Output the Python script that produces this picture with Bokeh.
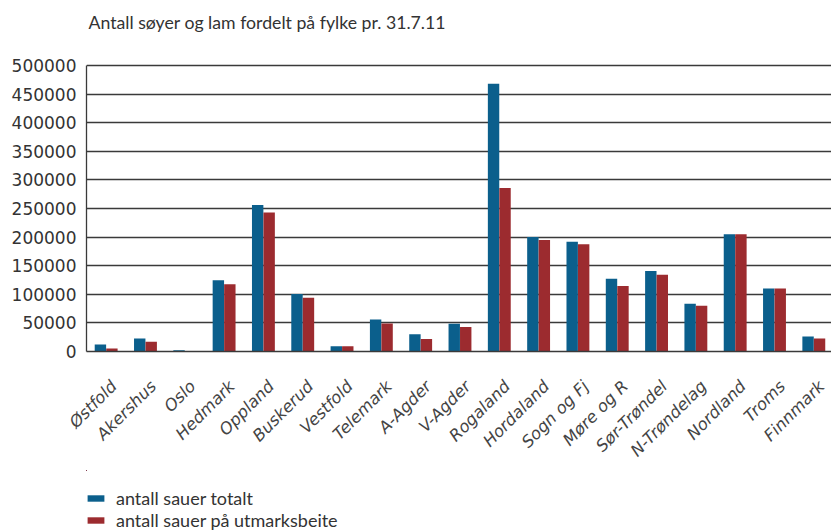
import numpy as np
from bokeh.plotting import figure
from bokeh.layouts import column
from bokeh.models import (ColumnDataSource, Range1d, SingleIntervalTicker, FixedTicker,
                          NumeralTickFormatter, Legend, LegendItem, Label)
from bokeh.transform import dodge
from bokeh.embed import file_html
from bokeh.resources import INLINE

title_text = "Antall søyer og lam fordelt på fylke pr. 31.7.11"
fylker = ["Østfold", "Akershus", "Oslo", "Hedmark", "Oppland", "Buskerud", "Vestfold",
          "Telemark", "A-Agder", "V-Agder", "Rogaland", "Hordaland", "Sogn og Fj",
          "Møre og R", "Sør-Trøndel", "N-Trøndelag", "Nordland", "Troms", "Finnmark"]
totalt = [12300, 22800, 2300, 124500, 256000, 100500, 9300, 56000, 30000, 48500,
          468000, 200000, 192000, 127000, 140800, 83500, 205000, 110000, 26300]
utmark = [5300, 17000, 500, 117400, 243000, 94000, 9300, 49000, 22000, 43000,
          285700, 195000, 187500, 114500, 134000, 80000, 205000, 110000, 22800]
series_names = ["antall sauer totalt", "antall sauer på utmarksbeite"]
y_max = 500000
y_ticks_step = 50000

idx = list(range(len(fylker)))
src = ColumnDataSource(dict(x=idx, totalt=totalt, utmark=utmark))

BLUE = "#0b5f8c"
RED = "#9c2b2f"
TXT = "#333333"

# main chart: frame runs from the page top down to the zero line; the value
# axis is bounded to 0..500000 so the space above it holds the title
px_per_unit = 286 / y_max
top_px = 65
p = figure(width=831, height=470, output_backend="svg", toolbar_location=None,
           x_range=Range1d(-0.5, 18.45),
           y_range=Range1d(0, y_max + top_px / px_per_unit),
           min_border_left=86, min_border_top=0, min_border_bottom=119, min_border_right=0)
p.outline_line_color = None
p.background_fill_color = "white"

r1 = p.vbar(x=dodge("x", -0.146, range=p.x_range), top="totalt", width=0.29,
            source=src, fill_color=BLUE, line_color=None)
r2 = p.vbar(x=dodge("x", 0.146, range=p.x_range), top="utmark", width=0.29,
            source=src, fill_color=RED, line_color=None)

p.xgrid.grid_line_color = None
p.ygrid.grid_line_color = "#3a3a3a"
p.ygrid.grid_line_width = 1.3
p.yaxis.bounds = (0, y_max)
p.ygrid.bounds = (0, y_max)
p.yaxis.ticker = SingleIntervalTicker(interval=y_ticks_step)
p.yaxis.formatter = NumeralTickFormatter(format="0")
p.yaxis.major_tick_line_color = None
p.yaxis.minor_tick_line_color = None
p.yaxis.axis_line_color = "#3a3a3a"
p.yaxis.axis_line_width = 1.3
p.yaxis.major_label_text_font = "DejaVu Sans"
p.yaxis.major_label_text_font_size = "17px"
p.yaxis.major_label_text_color = TXT
p.yaxis.major_label_standoff = 4

tick_pos = [i + 0.2 for i in idx]
p.xaxis.ticker = FixedTicker(ticks=tick_pos)
p.xaxis.major_label_overrides = {t: f for t, f in zip(tick_pos, fylker)}
p.xaxis.major_label_orientation = np.pi / 4
p.xaxis.major_tick_line_color = None
p.xaxis.minor_tick_line_color = None
p.xaxis.axis_line_color = "#3a3a3a"
p.xaxis.axis_line_width = 1.3
p.xaxis.major_label_text_font = "DejaVu Sans"
p.xaxis.major_label_text_font_style = "italic"
p.xaxis.major_label_text_font_size = "16.5px"
p.xaxis.major_label_text_color = "#444444"
p.xaxis.major_label_standoff = 26

title = Label(x=-0.5, y=y_max, x_offset=2, y_offset=43, text=title_text,
              text_baseline="alphabetic", text_align="left",
              text_font="Lato", text_font_size="17.7px", text_color=TXT)
p.add_layout(title)

# legend strip below the chart; its glyphs share the data but lie outside its view
q = figure(width=831, height=61, output_backend="svg", toolbar_location=None,
           x_axis_location=None, y_axis_location=None,
           x_range=Range1d(100, 101), y_range=Range1d(-2, -1),
           min_border_left=86, min_border_top=0, min_border_bottom=0, min_border_right=0)
q.outline_line_color = None
q.xgrid.visible = False
q.ygrid.visible = False
l1 = q.vbar(x="x", top="totalt", bottom=0, width=0.29, source=src, fill_color=BLUE, line_color=None)
l2 = q.vbar(x="x", top="utmark", bottom=0, width=0.29, source=src, fill_color=RED, line_color=None)
legend = Legend(items=[LegendItem(label=series_names[0], renderers=[l1]),
                       LegendItem(label=series_names[1], renderers=[l2])],
                location=(-1, 0), orientation="vertical")
legend.border_line_color = None
legend.background_fill_alpha = 0
legend.padding = 0
legend.margin = 0
legend.spacing = 0
legend.glyph_width = 21
legend.glyph_height = 8
legend.label_height = 21
legend.label_standoff = 10
legend.label_text_font = "Lato"
legend.label_text_font_size = "18px"
legend.label_text_color = TXT
q.add_layout(legend, "center")

layout = column(p, q, spacing=0)
open("out.html", "w").write(file_html(layout, INLINE))
